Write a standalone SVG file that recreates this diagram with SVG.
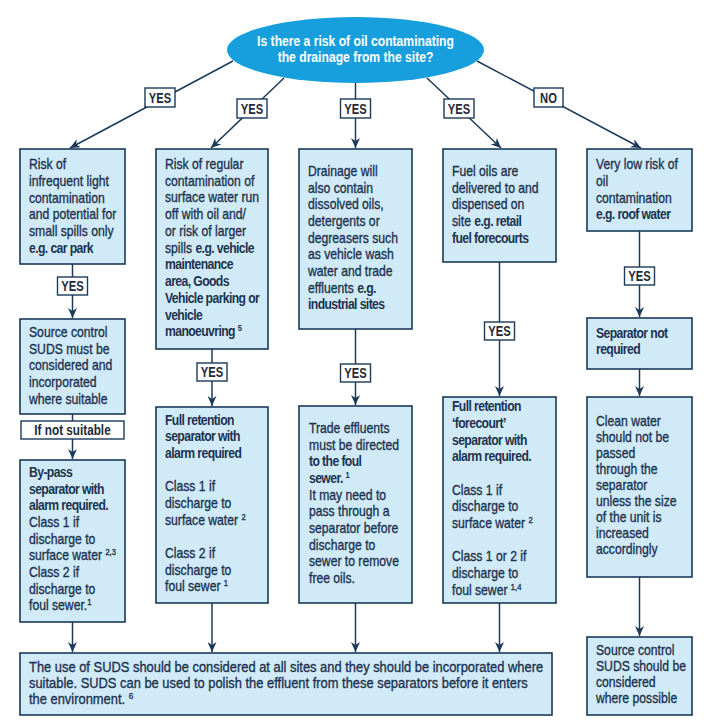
<svg xmlns="http://www.w3.org/2000/svg" width="708" height="726" viewBox="0 0 708 726">
<style>
.box{fill:#d1eaf7;stroke:#1b3a5a;stroke-width:1.6}
.lbl{fill:#ffffff;stroke:#1b3a5a;stroke-width:1.4}
.con{fill:none;stroke:#1b3a5a;stroke-width:1.5}
.t{font-family:"Liberation Sans",Arial,sans-serif;font-size:14.5px;fill:#1b3350;stroke:#1b3350;stroke-width:0.35}
.b{font-weight:bold;stroke-width:0;letter-spacing:-0.7px}
.lt{font-family:"Liberation Sans",Arial,sans-serif;font-size:14px;font-weight:bold;fill:#1e2a3a;text-anchor:middle}
.q{font-family:"Liberation Sans",Arial,sans-serif;font-size:15px;font-weight:bold;fill:#ffffff;text-anchor:middle}
.s{font-size:9px}
</style>
<defs>
<marker id="arr" markerUnits="userSpaceOnUse" markerWidth="10" markerHeight="9" viewBox="0 0 10 9" refX="10" refY="4.5" orient="auto">
<path d="M0,0 L10,4.5 L0,9 L3,4.5 z" fill="#1b3a5a"/>
</marker>
</defs>

<g id="connectors">
<line class="con" x1="233" y1="61" x2="70" y2="148" marker-end="url(#arr)"/>
<line class="con" x1="284" y1="78" x2="211" y2="148" marker-end="url(#arr)"/>
<line class="con" x1="355.5" y1="83" x2="355.5" y2="148" marker-end="url(#arr)"/>
<line class="con" x1="427" y1="78" x2="501" y2="148" marker-end="url(#arr)"/>
<line class="con" x1="477" y1="61" x2="641" y2="148" marker-end="url(#arr)"/>
<line class="con" x1="72.5" y1="264" x2="72.5" y2="318" marker-end="url(#arr)"/>
<line class="con" x1="72.5" y1="414" x2="72.5" y2="421"/>
<line class="con" x1="72.5" y1="439" x2="72.5" y2="459" marker-end="url(#arr)"/>
<line class="con" x1="72.5" y1="622" x2="72.5" y2="652" marker-end="url(#arr)"/>
<line class="con" x1="212" y1="349" x2="212" y2="406" marker-end="url(#arr)"/>
<line class="con" x1="212" y1="603" x2="212" y2="652" marker-end="url(#arr)"/>
<line class="con" x1="355.5" y1="329" x2="355.5" y2="405" marker-end="url(#arr)"/>
<line class="con" x1="355.5" y1="603" x2="355.5" y2="652" marker-end="url(#arr)"/>
<line class="con" x1="499.5" y1="262" x2="499.5" y2="396" marker-end="url(#arr)"/>
<line class="con" x1="499.5" y1="603" x2="499.5" y2="652" marker-end="url(#arr)"/>
<line class="con" x1="639.5" y1="231" x2="639.5" y2="317" marker-end="url(#arr)"/>
<line class="con" x1="639.5" y1="369" x2="639.5" y2="396" marker-end="url(#arr)"/>
<line class="con" x1="639.5" y1="577" x2="639.5" y2="636" marker-end="url(#arr)"/>
<g id="labels">
<rect class="lbl" x="145" y="88" width="30" height="19"/><text class="lt" transform="translate(160 0) scale(0.8 1)" x="0" y="103">YES</text>
<rect class="lbl" x="237" y="99" width="30" height="19"/><text class="lt" transform="translate(252 0) scale(0.8 1)" x="0" y="114">YES</text>
<rect class="lbl" x="340.5" y="99" width="30" height="19"/><text class="lt" transform="translate(355.5 0) scale(0.8 1)" x="0" y="114">YES</text>
<rect class="lbl" x="444" y="99" width="30" height="19"/><text class="lt" transform="translate(459 0) scale(0.8 1)" x="0" y="114">YES</text>
<rect class="lbl" x="534" y="88" width="29" height="19"/><text class="lt" transform="translate(548.5 0) scale(0.8 1)" x="0" y="103">NO</text>
<rect class="lbl" x="57.5" y="277" width="30" height="18"/><text class="lt" transform="translate(72.5 0) scale(0.8 1)" x="0" y="291">YES</text>
<rect class="lbl" x="197" y="363" width="30" height="18"/><text class="lt" transform="translate(212 0) scale(0.8 1)" x="0" y="377">YES</text>
<rect class="lbl" x="340.5" y="364" width="30" height="18"/><text class="lt" transform="translate(355.5 0) scale(0.8 1)" x="0" y="378">YES</text>
<rect class="lbl" x="484.5" y="322" width="30" height="18"/><text class="lt" transform="translate(499.5 0) scale(0.8 1)" x="0" y="336">YES</text>
<rect class="lbl" x="624.5" y="267" width="30" height="18"/><text class="lt" transform="translate(639.5 0) scale(0.8 1)" x="0" y="281">YES</text>
</g>
</g>

<g id="question">
<ellipse cx="355.5" cy="50" rx="128.5" ry="33" fill="#179fdd"/>
<text class="q" transform="translate(355.5 0) scale(0.81 1)"><tspan x="0" y="46">Is there a risk of oil contaminating</tspan><tspan x="0" y="62">the drainage from the site?</tspan></text>
</g>

<g id="n1">
<rect class="box" x="20" y="149" width="105" height="115"/>
<text class="t" transform="translate(29 0) scale(0.84 1)"><tspan x="0" y="169">Risk of</tspan><tspan x="0" y="186">infrequent light</tspan><tspan x="0" y="203">contamination</tspan><tspan x="0" y="219">and potential for</tspan><tspan x="0" y="236">small spills only</tspan><tspan x="0" y="253" class="b">e.g. car park</tspan></text>
</g>

<g id="n2">
<rect class="box" x="156" y="149" width="112" height="200"/>
<text class="t" transform="translate(165 0) scale(0.84 1)"><tspan x="0" y="169">Risk of regular</tspan><tspan x="0" y="185.75">contamination of</tspan><tspan x="0" y="202.5">surface water run</tspan><tspan x="0" y="219.25">off with oil and/</tspan><tspan x="0" y="236">or risk of larger</tspan><tspan x="0" y="252.75">spills <tspan class="b">e.g. vehicle</tspan></tspan><tspan x="0" y="269.5" class="b">maintenance</tspan><tspan x="0" y="286.25" class="b">area, Goods</tspan><tspan x="0" y="303" class="b">Vehicle parking or</tspan><tspan x="0" y="319.75" class="b">vehicle</tspan><tspan x="0" y="336.5" class="b">manoeuvring <tspan class="s" dy="-5">5</tspan></tspan></text>
</g>

<g id="n3">
<rect class="box" x="299" y="149" width="113" height="180"/>
<text class="t" transform="translate(308 0) scale(0.84 1)"><tspan x="0" y="176">Drainage will</tspan><tspan x="0" y="193">also contain</tspan><tspan x="0" y="209">dissolved oils,</tspan><tspan x="0" y="226">detergents or</tspan><tspan x="0" y="243">degreasers such</tspan><tspan x="0" y="259">as vehicle wash</tspan><tspan x="0" y="276">water and trade</tspan><tspan x="0" y="293">effluents <tspan class="b">e.g.</tspan></tspan><tspan x="0" y="309" class="b">industrial sites</tspan></text>
</g>

<g id="n4">
<rect class="box" x="443" y="149" width="113" height="113"/>
<text class="t" transform="translate(452 0) scale(0.84 1)"><tspan x="0" y="176">Fuel oils are</tspan><tspan x="0" y="193">delivered to and</tspan><tspan x="0" y="209">dispensed on</tspan><tspan x="0" y="226">site <tspan class="b">e.g. retail</tspan></tspan><tspan x="0" y="243" class="b">fuel forecourts</tspan></text>
</g>

<g id="n5">
<rect class="box" x="587" y="149" width="105" height="82"/>
<text class="t" transform="translate(596 0) scale(0.84 1)"><tspan x="0" y="169">Very low risk of</tspan><tspan x="0" y="186">oil</tspan><tspan x="0" y="203">contamination</tspan><tspan x="0" y="219" class="b">e.g. roof water</tspan></text>
</g>

<g id="n1a">
<rect class="box" x="20" y="319" width="105" height="95"/>
<text class="t" transform="translate(29 0) scale(0.84 1)"><tspan x="0" y="337">Source control</tspan><tspan x="0" y="354">SUDS must be</tspan><tspan x="0" y="370">considered and</tspan><tspan x="0" y="387">incorporated</tspan><tspan x="0" y="404">where suitable</tspan></text>
</g>

<g id="n1-cond">
<rect class="lbl" x="21" y="421" width="103" height="18"/>
<text class="lt" transform="translate(72.5 0) scale(0.84 1)" x="0" y="435">If not suitable</text>
</g>

<g id="n1b">
<rect class="box" x="20" y="460" width="105" height="162"/>
<text class="t" transform="translate(29 0) scale(0.84 1)"><tspan x="0" y="477" class="b">By-pass</tspan><tspan x="0" y="494" class="b">separator with</tspan><tspan x="0" y="510" class="b">alarm required.</tspan><tspan x="0" y="527">Class 1 if</tspan><tspan x="0" y="544">discharge to</tspan><tspan x="0" y="560">surface water <tspan class="s" dy="-5">2,3</tspan></tspan><tspan x="0" y="577">Class 2 if</tspan><tspan x="0" y="594">discharge to</tspan><tspan x="0" y="610">foul sewer.<tspan class="s" dy="-5">1</tspan></tspan></text>
</g>

<g id="n2b">
<rect class="box" x="156" y="407" width="112" height="196"/>
<text class="t" transform="translate(165 0) scale(0.84 1)"><tspan x="0" y="425" class="b">Full retention</tspan><tspan x="0" y="441" class="b">separator with</tspan><tspan x="0" y="458" class="b">alarm required</tspan><tspan x="0" y="491">Class 1 if</tspan><tspan x="0" y="508">discharge to</tspan><tspan x="0" y="525">surface water <tspan class="s" dy="-5">2</tspan></tspan><tspan x="0" y="558">Class 2 if</tspan><tspan x="0" y="575">discharge to</tspan><tspan x="0" y="591">foul sewer <tspan class="s" dy="-5">1</tspan></tspan></text>
</g>

<g id="n3b">
<rect class="box" x="299" y="406" width="113" height="197"/>
<text class="t" transform="translate(309 0) scale(0.84 1)"><tspan x="0" y="433">Trade effluents</tspan><tspan x="0" y="450">must be directed</tspan><tspan x="0" y="466" class="b">to the foul</tspan><tspan x="0" y="483" class="b">sewer. <tspan class="s" dy="-5">1</tspan></tspan><tspan x="0" y="500">It may need to</tspan><tspan x="0" y="516">pass through a</tspan><tspan x="0" y="533">separator before</tspan><tspan x="0" y="550">discharge to</tspan><tspan x="0" y="566">sewer to remove</tspan><tspan x="0" y="583">free oils.</tspan></text>
</g>

<g id="n4b">
<rect class="box" x="443" y="397" width="113" height="206"/>
<text class="t" transform="translate(452 0) scale(0.84 1)"><tspan x="0" y="411" class="b">Full retention</tspan><tspan x="0" y="428" class="b">‘forecourt’</tspan><tspan x="0" y="445" class="b">separator with</tspan><tspan x="0" y="461" class="b">alarm required.</tspan><tspan x="0" y="495">Class 1 if</tspan><tspan x="0" y="511">discharge to</tspan><tspan x="0" y="528">surface water <tspan class="s" dy="-5">2</tspan></tspan><tspan x="0" y="561">Class 1 or 2 if</tspan><tspan x="0" y="578">discharge to</tspan><tspan x="0" y="595">foul sewer <tspan class="s" dy="-5">1,4</tspan></tspan></text>
</g>

<g id="n5a">
<rect class="box" x="587" y="318" width="105" height="51"/>
<text class="t" transform="translate(596 0) scale(0.84 1)"><tspan x="0" y="338" class="b">Separator not</tspan><tspan x="0" y="354" class="b">required</tspan></text>
</g>

<g id="n5b">
<rect class="box" x="587" y="397" width="105" height="180"/>
<text class="t" transform="translate(596 0) scale(0.84 1)"><tspan x="0" y="426">Clean water</tspan><tspan x="0" y="442">should not be</tspan><tspan x="0" y="458">passed</tspan><tspan x="0" y="474">through the</tspan><tspan x="0" y="490">separator</tspan><tspan x="0" y="506">unless the size</tspan><tspan x="0" y="522">of the unit is</tspan><tspan x="0" y="538">increased</tspan><tspan x="0" y="554">accordingly</tspan></text>
</g>

<g id="n5c">
<rect class="box" x="587" y="637" width="105" height="78"/>
<text class="t" transform="translate(596 0) scale(0.84 1)"><tspan x="0" y="655">Source control</tspan><tspan x="0" y="671">SUDS should be</tspan><tspan x="0" y="687">considered</tspan><tspan x="0" y="703">where possible</tspan></text>
</g>

<g id="n-suds">
<rect class="box" x="20" y="653" width="532" height="62"/>
<text class="t" transform="translate(29 0) scale(0.89 1)"><tspan x="0" y="672">The use of SUDS should be considered at all sites and they should be incorporated where</tspan><tspan x="0" y="688">suitable. SUDS can be used to polish the effluent from these separators before it enters</tspan><tspan x="0" y="704">the environment. <tspan class="s" dy="-5">6</tspan></tspan></text>
</g>
</svg>
